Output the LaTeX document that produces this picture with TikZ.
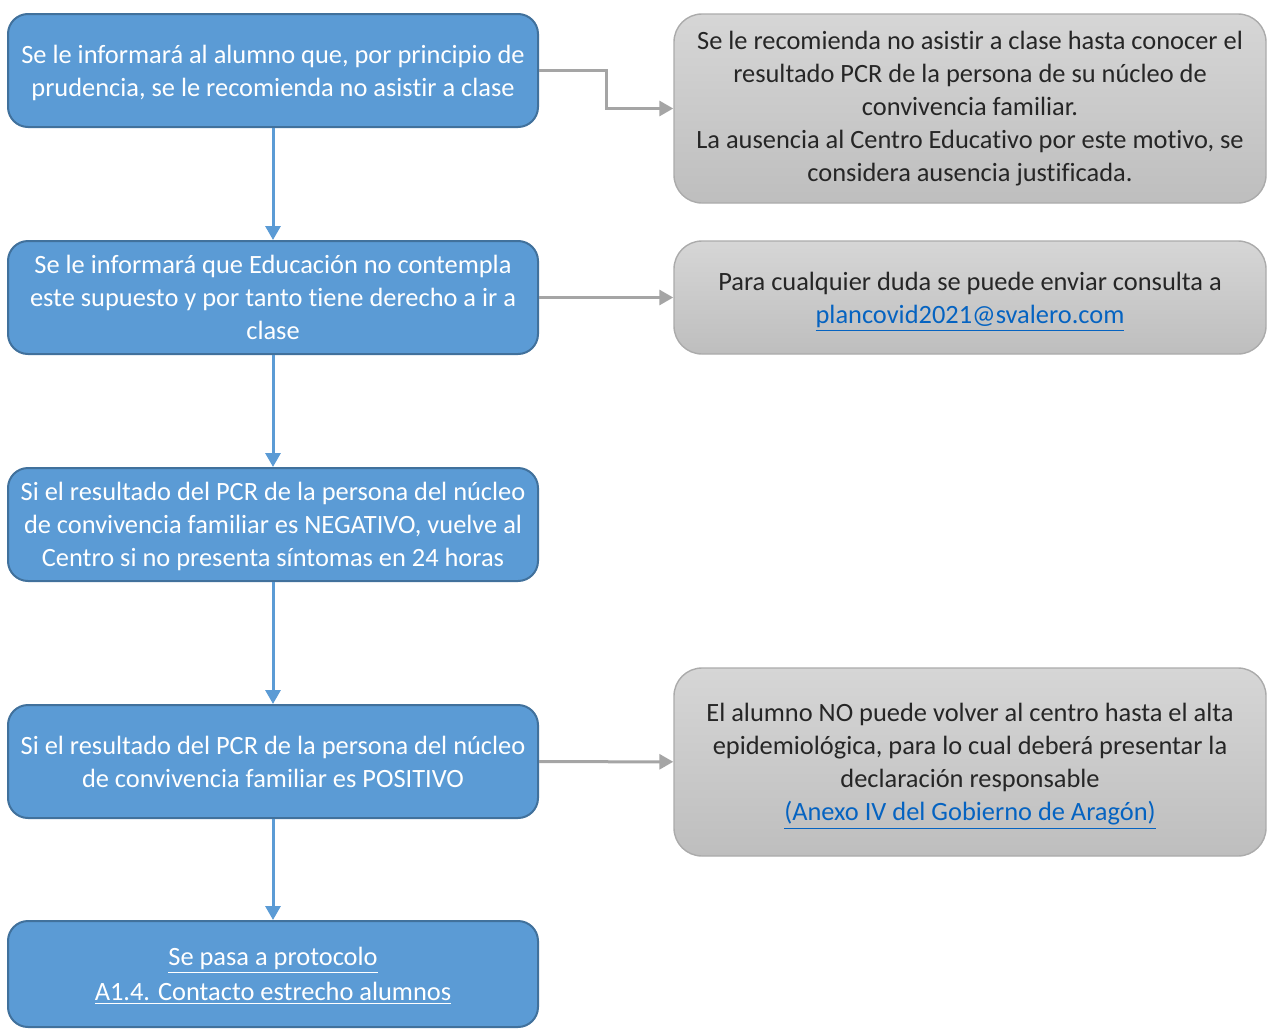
\documentclass[tikz,border=0pt]{standalone}
\usepackage{fontspec}
\setmainfont{Carlito}[Ligatures=NoCommon]
\usetikzlibrary{arrows.meta, positioning}
\definecolor{boxblue}{HTML}{5B9BD5}
\definecolor{boxedge}{HTML}{41719C}
\definecolor{linkblue}{HTML}{0563C1}
\definecolor{arrowgray}{HTML}{A5A5A5}
\definecolor{grayedge}{HTML}{ABABAB}
\definecolor{graytop}{HTML}{D6D6D6}
\definecolor{graybot}{HTML}{BEBEBE}

\begin{document}
\begin{tikzpicture}[x=0.5pt,y=-0.5pt,
    bluebox/.style={draw=boxedge, line width=1pt, fill=boxblue, rounded corners=10pt,
        minimum width=265pt, minimum height=56.5pt, inner sep=0pt, text depth=0pt,
        text=white, align=center, font=\fontsize{13.2}{16.5}\selectfont},
    graybox/.style={draw=grayedge, line width=0.7pt, top color=graytop, bottom color=graybot,
        rounded corners=14pt, minimum width=296pt, inner sep=0pt,
        text=black!85, align=center, font=\fontsize{13.2}{16.5}\selectfont},
    flow/.style={boxblue, line width=1.5pt, -{Triangle[length=7pt,width=7.5pt]}},
    side/.style={arrowgray, line width=1.5pt, -{Triangle[length=7pt,width=7.5pt]}}]
%
\useasboundingbox (0,0) rectangle (1268,1028);
%
\node[bluebox] (inform) at (273,70.5)
    {Se le informará al alumno que, por principio de\\prudencia, se le recomienda no asistir a clase};
\node[bluebox] (derecho) at (273,297.5)
    {Se le informará que Educación no contempla\\este supuesto y por tanto tiene derecho a ir a\\clase};
\node[bluebox] (negativo) at (273,524.5)
    {Si el resultado del PCR de la persona del núcleo\\de convivencia familiar es NEGATIVO, vuelve al\\Centro si no presenta síntomas en 24 horas};
\node[bluebox] (positivo) at (273,761.5)
    {Si el resultado del PCR de la persona del núcleo\\de convivencia familiar es POSITIVO};
\node[bluebox, minimum height=53pt, text depth=-3.5pt] (protocolo) at (273,974)
    {\underline{Se pasa a protocolo}\\[1pt]\underline{A1.4. Contacto estrecho alumnos}};
%
\node[graybox, minimum height=94.5pt] (recom) at (970,108.5)
    {Se le recomienda no asistir a clase hasta conocer el\\resultado PCR de la persona de su núcleo de\\convivencia familiar.\\La ausencia al Centro Educativo por este motivo, se\\considera ausencia justificada.};
\node[graybox, minimum height=56.5pt, text depth=0pt] (consulta) at (970,297.5)
    {Para cualquier duda se puede enviar consulta a\\\textcolor{linkblue}{\underline{plancovid2021@svalero.com}}};
\node[graybox, minimum height=94pt, text depth=0pt] (alta) at (970,762)
    {El alumno NO puede volver al centro hasta el alta\\epidemiológica, para lo cual deberá presentar la\\declaración responsable\\\textcolor{linkblue}{\underline{(Anexo IV del Gobierno de Aragón)}}};
%
\draw[flow] (inform) -- (derecho);
\draw[flow] (derecho) -- (negativo);
\draw[flow] (negativo) -- (positivo);
\draw[flow] (positivo) -- (protocolo);
%
\draw[side] (inform.east) -- ++(67,0) |- (recom.west);
\draw[side] (derecho) -- (consulta);
\draw[side] (positivo) -- (alta);
\end{tikzpicture}
\end{document}
